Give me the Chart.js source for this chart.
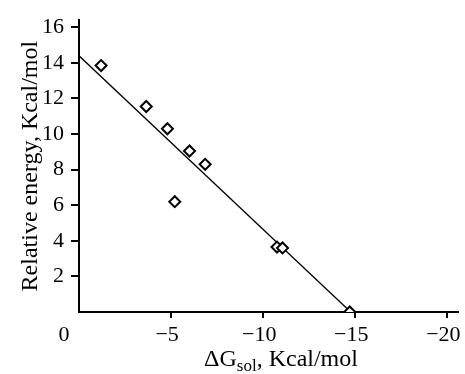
<!DOCTYPE html>
<html>
<head>
<meta charset="utf-8">
<script src="https://cdn.jsdelivr.net/npm/chart.js@4"></script>
<style>
html, body { margin: 0; padding: 0; background: #fff; }
canvas { display: block; }
</style>
</head>
<body>
<canvas id="energyChart" width="465" height="374"></canvas>
<script>
// solvation free energy (x) vs relative energy (y)
const dGsol = [-1.2, -3.65, -4.8, -6.0, -6.85, -5.2, -10.75, -11.05, -14.7];
const relEnergy = [13.85, 11.55, 10.3, 9.05, 8.3, 6.2, 3.65, 3.6, 0.0];
// fitted straight line, end points
const fitX = [0, -14.75];
const fitY = [14.4, 0];
const xTicks = [0, -5, -10, -15, -20];
const yTicks = [2, 4, 6, 8, 10, 12, 14, 16];

const serif = '"Liberation Serif", "Times New Roman", serif';

// x title has a subscript, so it is drawn by hand
const xTitlePlugin = {
   id: 'xTitle',
   afterDraw(chart) {
      const ctx = chart.ctx;
      ctx.save();
      ctx.fillStyle = '#000';
      ctx.textAlign = 'left';
      ctx.textBaseline = 'alphabetic';
      const big = '24px ' + serif;
      const small = '17px ' + serif;
      ctx.font = big;
      const w1 = ctx.measureText('\u0394G').width;
      const w3 = ctx.measureText(', Kcal/mol').width;
      ctx.font = small;
      const w2 = ctx.measureText('sol').width;
      let x = 281 - (w1 + w2 + w3) / 2;
      const y = 366;
      ctx.font = big;
      ctx.fillText('\u0394G', x, y);
      x += w1;
      ctx.font = small;
      ctx.fillText('sol', x, y + 5);
      x += w2;
      ctx.font = big;
      ctx.fillText(', Kcal/mol', x, y);
      ctx.restore();
   }
};

var ctx = document.getElementById('energyChart').getContext('2d');
var energyChart = new Chart(ctx, {
   type: 'scatter',
   data: {
      datasets: [{
         type: 'scatter',
         data: dGsol.map((v, i) => ({ x: v, y: relEnergy[i] })),
         pointStyle: 'rectRot',
         pointRadius: 5.5,
         pointBorderWidth: 2,
         pointBorderColor: '#000',
         pointBackgroundColor: '#fff',
         order: 1
      }, {
         type: 'line',
         data: fitX.map((v, i) => ({ x: v, y: fitY[i] })),
         borderColor: '#000',
         borderWidth: 1.3,
         pointRadius: 0,
         fill: false,
         order: 2
      }]
   },
   options: {
      responsive: false,
      animation: false,
      layout: { padding: { top: 15, right: 2, left: 0, bottom: 0 } },
      plugins: { legend: { display: false }, tooltip: { enabled: false } },
      scales: {
         x: {
            type: 'linear',
            reverse: true,
            min: -20.55,
            max: 0,
            afterBuildTicks: (scale) => { scale.ticks = xTicks.map(v => ({ value: v })); },
            afterFit: (scale) => { scale.height = 62; scale.paddingLeft = 0; scale.paddingRight = 0; },
            border: { display: true, color: '#000', width: 2 },
            grid: {
               drawOnChartArea: false,
               drawTicks: true,
               tickLength: 6,
               lineWidth: 2,
               color: (c) => (c.tick && c.tick.value === 0) ? 'rgba(0,0,0,0)' : '#000'
            },
            ticks: {
               color: '#000',
               font: { family: serif, size: 22 },
               padding: 4,
               labelOffset: -4,
               maxRotation: 0,
               callback: (v) => v === 0 ? '0\u2003' : '\u2212' + Math.abs(v)
            }
         },
         y: {
            type: 'linear',
            min: 0,
            max: 16.4,
            afterBuildTicks: (scale) => { scale.ticks = yTicks.map(v => ({ value: v })); },
            afterFit: (scale) => { scale.width = 79; },
            border: { display: true, color: '#000', width: 2 },
            grid: {
               drawOnChartArea: false,
               drawTicks: true,
               tickLength: 8,
               lineWidth: 2,
               color: '#000'
            },
            ticks: {
               color: '#000',
               font: { family: serif, size: 22 },
               padding: 7
            },
            title: {
               display: true,
               text: 'Relative energy, Kcal/mol',
               color: '#000',
               font: { family: serif, size: 24, weight: 'normal' },
               padding: { top: 16, bottom: 0 }
            }
         }
      }
   },
   plugins: [xTitlePlugin]
});
</script>
</body>
</html>
